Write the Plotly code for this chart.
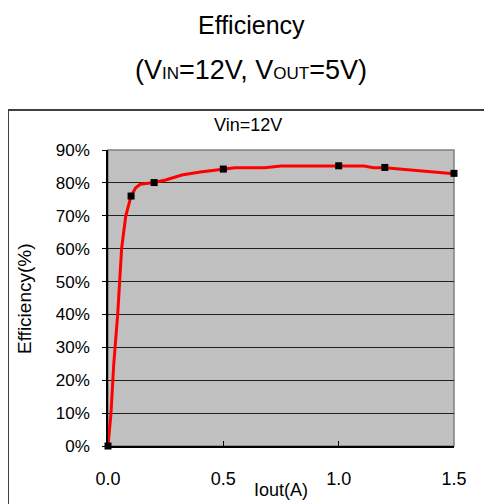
import plotly.graph_objects as go

# Curve (Iout in A, efficiency in %)
curve_iout = [0, 0.013, 0.025, 0.042, 0.059, 0.077, 0.1, 0.12, 0.14, 0.16, 0.2, 0.25, 0.32, 0.4,
              0.5, 0.55, 0.68, 0.75, 1.0, 1.11, 1.15, 1.2, 1.5, 1.52]
curve_eff = [0, 10, 25, 40, 60, 70, 76, 78.5, 79.6, 79.7, 80.1, 80.9, 82.4, 83.3,
             84.2, 84.6, 84.6, 85.1, 85.1, 85.1, 84.6, 84.6, 82.8, 82.5]

# Measured points (markers)
meas_iout = [0, 0.1, 0.2, 0.5, 1.0, 1.2, 1.5]
meas_eff = [0, 76, 80.1, 84.2, 85.2, 84.7, 82.9]

x_ticks = [0, 0.5, 1.0, 1.5]
x_ticktext = ["0.0", "0.5", "1.0", "1.5"]
y_ticks = [0, 10, 20, 30, 40, 50, 60, 70, 80, 90]
y_ticktext = ["0%", "10%", "20%", "30%", "40%", "50%", "60%", "70%", "80%", "90%"]

FONT = "Liberation Sans, Arial, sans-serif"

fig = go.Figure()
fig.add_trace(go.Scatter(x=curve_iout, y=curve_eff, mode="lines",
                         line=dict(color="#FF0000", width=3), cliponaxis=False,
                         hoverinfo="skip"))
fig.add_trace(go.Scatter(x=meas_iout, y=meas_eff, mode="markers",
                         marker=dict(symbol="square", size=7, color="black"),
                         cliponaxis=False))

# page body has an 8px margin; work in reference-pixel coordinates
OFF = 8
W, H = 492 - OFF, 504 - OFF
L, R, T, B = 108 - OFF, 454 - OFF, 150 - OFF, 446 - OFF
pw, ph = R - L, B - T

def px(x):
    return (x - OFF - L) / pw

def py(y):
    return (B - (y - OFF)) / ph

SUB = "<span style='font-size:17px'>{}</span>"

fig.update_layout(
    width=W, height=H,
    margin=dict(l=L, r=W - R, t=T, b=H - B),
    paper_bgcolor="white",
    plot_bgcolor="#C0C0C0",
    showlegend=False,
    font=dict(family=FONT, color="black", size=17),
    xaxis=dict(range=[0, 1.5], tickvals=x_ticks, ticktext=x_ticktext,
               ticks="inside", ticklen=5, tickcolor="black", tickwidth=1,
               showline=True, linecolor="black", linewidth=1.5,
               showgrid=False, zeroline=False, ticklabelstandoff=16,
               tickfont=dict(size=18)),
    yaxis=dict(range=[0, 90], tickvals=y_ticks, ticktext=y_ticktext,
               ticks="outside", ticklen=4, tickcolor="black", tickwidth=1,
               showline=True, linecolor="black", linewidth=1.5,
               showgrid=True, gridcolor="#202020", gridwidth=1,
               zeroline=False, ticklabelstandoff=9,
               tickfont=dict(size=17)),
    shapes=[
        dict(type="rect", xref="paper", yref="paper", x0=0, x1=1, y0=0, y1=1,
             line=dict(color="#808080", width=1.5), layer="below"),
        dict(type="rect", xref="paper", yref="paper",
             x0=px(8), x1=px(530), y0=py(110), y1=py(540),
             line=dict(color="#404040", width=2)),
    ],
    annotations=[
        dict(text="Efficiency", xref="paper", yref="paper", x=px(251), y=py(25),
             showarrow=False, font=dict(size=25), xanchor="center", yanchor="middle"),
        dict(text="(V" + SUB.format("IN") + "=12V, V" + SUB.format("OUT") + "=5V)",
             xref="paper", yref="paper",
             x=px(251), y=py(70), showarrow=False, font=dict(size=27),
             xanchor="center", yanchor="middle"),
        dict(text="Vin=12V", xref="paper", yref="paper", x=px(248), y=py(125),
             showarrow=False, font=dict(size=18), xanchor="center", yanchor="middle"),
        dict(text="Efficiency(%)", xref="paper", yref="paper", x=px(24), y=py(299),
             showarrow=False, font=dict(size=19), textangle=-90,
             xanchor="center", yanchor="middle"),
        dict(text="Iout(A)", xref="paper", yref="paper", x=px(281), y=py(490),
             showarrow=False, font=dict(size=18), xanchor="center", yanchor="middle"),
    ],
)

fig.write_html("out.html")
